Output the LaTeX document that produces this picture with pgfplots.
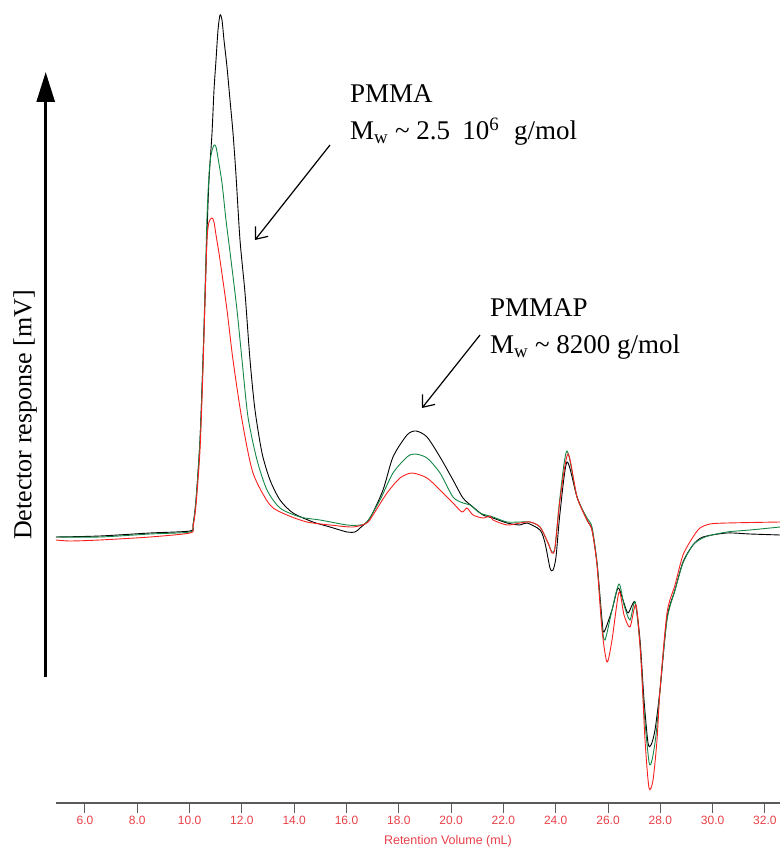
\documentclass[border=0pt]{standalone}
\usepackage{pgfplots}
\pgfplotsset{compat=1.18}
\usepackage{fontspec}
\setmainfont{Liberation Serif}
\newfontfamily\arial{Liberation Sans}
\usetikzlibrary{arrows.meta}
\definecolor{tickred}{RGB}{232,64,72}
\definecolor{cgreen}{RGB}{20,135,70}
\definecolor{cred}{RGB}{250,30,30}
\definecolor{axgray}{RGB}{90,90,90}
\begin{document}
\begin{tikzpicture}
\begin{axis}[
  scale only axis, width=724pt, height=803pt,
  xmin=4.891, xmax=32.577, ymin=0, ymax=803,
  axis x line*=bottom, axis y line=none,
  axis line style={draw=axgray, line width=1.3pt},
  xtick={6,8,...,32}, tick align=outside, major tick length=10pt,
  tick style={draw=axgray, line width=1pt},
  /pgf/number format/assume math mode=true,
  xticklabel={\pgfmathprintnumber[fixed,fixed zerofill,precision=1]{\tick}},
  xticklabel style={font=\arial\fontsize{12}{14}\selectfont, text=tickred},
  clip=false,
  every axis plot/.append style={smooth, tension=0.45, line width=0.9pt},
]
\addplot[black] coordinates {
(4.891,266)(6.574,267)(8.486,270)(10.015,272)(10.130,278)(10.245,303)(10.398,363)(10.512,443)(10.589,503)(10.665,570)(10.742,623)(10.857,670)(10.933,713)(11.010,743)(11.086,773)(11.163,788)(11.239,783)(11.315,763)(11.430,736)(11.545,703)(11.660,670)(11.774,628)(11.927,563)(12.119,510)(12.310,443)(12.501,393)(12.769,350)(13.075,323)(13.457,303)(13.954,290)(14.719,281)(15.369,276)(16.019,271)(16.325,271)(16.516,275)(16.899,285)(17.396,313)(17.778,346)(18.314,368)(18.658,372)(19.078,366)(19.576,346)(20.073,323)(20.455,305)(20.837,296)(21.220,288)(21.602,285)(22.138,280)(22.635,278)(22.902,280)(23.400,273)(23.591,260)(23.782,235)(23.897,233)(24.011,246)(24.164,290)(24.432,341)(24.815,306)(25.197,283)(25.388,273)(25.579,240)(25.771,183)(25.847,171)(26.153,193)(26.382,215)(26.574,203)(26.765,190)(27.033,201)(27.224,163)(27.377,103)(27.530,60)(27.645,58)(27.797,73)(27.989,113)(28.256,185)(28.562,213)(28.868,241)(29.250,258)(29.633,266)(30.550,270)(31.430,269)(32.577,268)
};
\addplot[cgreen] coordinates {
(4.891,266)(6.574,266)(8.486,269)(10.015,271)(10.130,278)(10.245,303)(10.398,363)(10.512,443)(10.589,513)(10.665,586)(10.742,628)(10.818,648)(10.933,658)(11.010,656)(11.086,645)(11.239,620)(11.392,583)(11.583,543)(11.812,493)(12.004,443)(12.233,386)(12.578,343)(12.960,313)(13.457,295)(14.222,286)(14.987,283)(16.019,278)(16.516,278)(16.784,281)(17.281,303)(17.778,330)(18.314,346)(18.620,349)(19.078,345)(19.576,330)(20.073,306)(20.455,300)(20.723,298)(21.105,290)(21.602,286)(22.138,281)(22.635,281)(23.017,281)(23.400,276)(23.706,260)(23.859,251)(23.973,256)(24.164,306)(24.432,352)(24.815,306)(25.197,285)(25.388,276)(25.579,240)(25.771,178)(25.885,163)(26.153,193)(26.421,219)(26.612,198)(26.841,183)(27.033,201)(27.224,158)(27.377,93)(27.568,41)(27.683,43)(27.836,68)(27.989,113)(28.256,183)(28.562,213)(28.868,240)(29.250,258)(29.709,266)(30.550,271)(31.430,273)(32.577,276)
};
\addplot[cred] coordinates {
(4.891,263)(5.426,262)(6.574,263)(8.486,266)(10.015,270)(10.130,276)(10.245,298)(10.398,353)(10.512,433)(10.589,503)(10.665,563)(10.742,581)(10.857,585)(10.933,581)(11.010,568)(11.163,543)(11.430,493)(11.660,443)(12.004,383)(12.425,330)(13.075,298)(13.725,288)(14.489,281)(15.369,278)(16.249,276)(16.784,280)(17.013,288)(17.549,310)(18.046,325)(18.505,330)(19.078,325)(19.576,313)(20.073,300)(20.417,291)(20.608,295)(20.837,288)(21.220,285)(21.488,287)(21.602,283)(22.138,278)(22.635,280)(23.017,281)(23.400,276)(23.706,260)(23.859,250)(23.973,255)(24.164,303)(24.470,349)(24.815,306)(25.197,283)(25.388,273)(25.579,238)(25.771,173)(25.962,141)(26.153,163)(26.421,211)(26.612,188)(26.841,176)(27.071,198)(27.262,143)(27.415,63)(27.568,15)(27.721,23)(27.874,63)(27.989,113)(28.256,190)(28.562,218)(28.868,248)(29.250,266)(29.518,275)(29.900,279)(30.550,280)(32.577,281)
};
% annotations
\node[anchor=base west, font=\fontsize{27}{30}\selectfont, inner sep=0pt] at (axis cs:16.134,700) {PMMA};
\node[anchor=base west, font=\fontsize{27}{30}\selectfont, inner sep=0pt] at (axis cs:16.134,663) {M\textsubscript{w} \textasciitilde{} 2.5\hspace{0.2em} 10\textsuperscript{6}\hspace{0.3em} g/mol};
\node[anchor=base west, font=\fontsize{27}{30}\selectfont, inner sep=0pt] at (axis cs:21.488,486) {PMMAP};
\node[anchor=base west, font=\fontsize{27}{30}\selectfont, inner sep=0pt] at (axis cs:21.488,449) {M\textsubscript{w} \textasciitilde{} 8200 g/mol};
\draw[line width=1.2pt, -{Straight Barb[length=10pt,width=16pt]}] (axis cs:15.369,658) -- (axis cs:12.501,563);
\draw[line width=1.2pt, -{Straight Barb[length=10pt,width=16pt]}] (axis cs:21.105,468) -- (axis cs:18.887,395);
\draw[line width=2.8pt, -{Triangle[length=30pt,width=18pt]}] (axis cs:4.497,126) -- (axis cs:4.497,731);
\node[rotate=90, font=\fontsize{26}{30}\selectfont] at (axis cs:3.706,388) {Detector response [mV]};
\node[font=\arial\fontsize{12.5}{14}\selectfont, text=tickred] at (axis cs:19.88,-38) {Retention Volume (mL)};
\coordinate (bl) at (rel axis cs:0,0);
\coordinate (tr) at (rel axis cs:1,1);
\end{axis}
\pgfresetboundingbox
\path (bl) ++(-56pt,-44pt) rectangle (tr);
\end{tikzpicture}
\end{document}
